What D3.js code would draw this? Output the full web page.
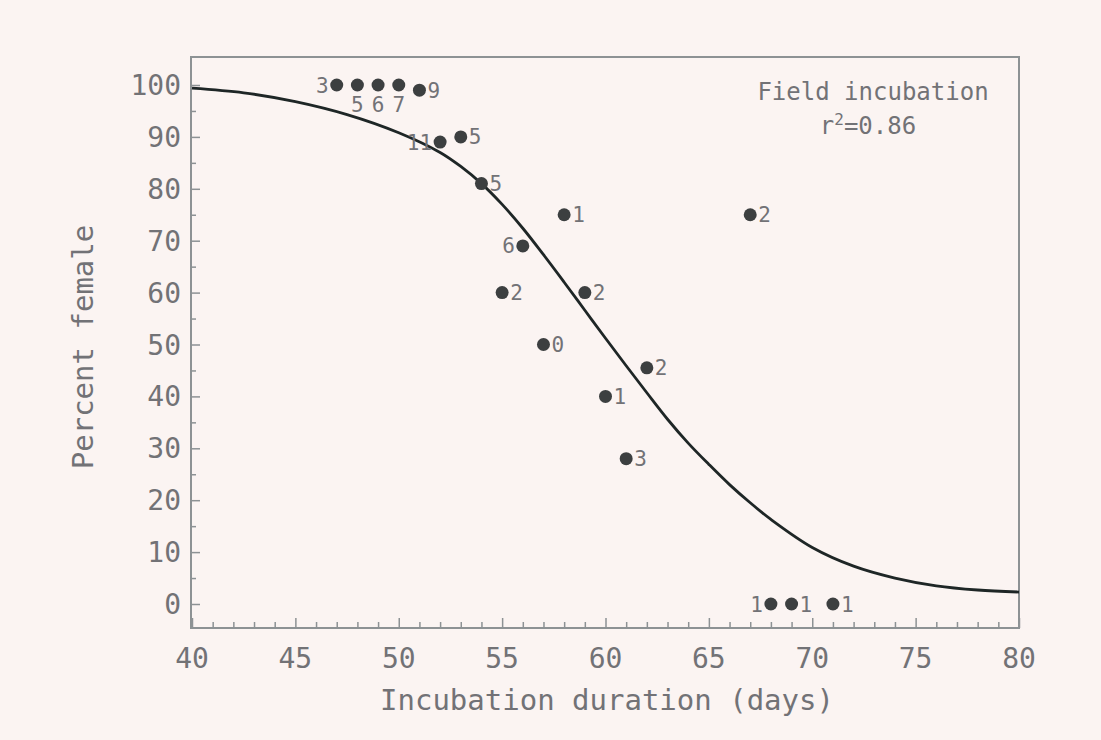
<!DOCTYPE html>
<html>
<head>
<meta charset="utf-8">
<script src="https://cdn.jsdelivr.net/npm/d3@7"></script>
<style>
  html, body { margin: 0; padding: 0; background: #fbf4f2; }
  svg { display: block; }
</style>
</head>
<body>
<svg id="chart" width="1101" height="740"></svg>
<script>
// ---- data ----
const pointDays    = [47, 48, 49, 50, 51, 52, 53, 54, 55, 56, 57, 58, 59, 60, 61, 62, 67, 68, 69, 71];
const pointFemale  = [100, 100, 100, 100, 99, 89, 90, 81, 60, 69, 50, 75, 60, 40, 28, 45.5, 75, 0, 0, 0];
const pointLabels  = ["3", "5", "6", "7", "9", "11", "5", "5", "2", "6", "0", "1", "2", "1", "3", "2", "2", "1", "1", "1"];
const labelSides   = ["left", "below", "below", "below", "right", "left", "right", "right", "right", "left", "right", "right", "right", "right", "right", "right", "right", "left", "right", "right"];

const curveDays    = [40, 42.5, 45, 47.5, 50, 52, 53, 54, 55, 56, 57, 58, 59, 60, 61, 62, 63, 64, 65, 66, 67, 68, 70, 72, 74, 76, 78, 80];
const curveFemale  = [99.4, 98.5, 96.8, 94.3, 90.8, 87.0, 84.3, 81.0, 77.0, 72.4, 67.3, 62.0, 56.6, 51.2, 45.9, 40.7, 35.6, 31.0, 26.9, 23.0, 19.5, 16.3, 10.9, 7.3, 5.0, 3.5, 2.7, 2.3];

const xTickValues  = [40, 45, 50, 55, 60, 65, 70, 75, 80];
const yTickValues  = [0, 10, 20, 30, 40, 50, 60, 70, 80, 90, 100];
const legendLines  = ["Field incubation", "0.86"];

const xTitle = "Incubation duration (days)";
const yTitle = "Percent female";

// ---- layout ----
const svg = d3.select("#chart");
const frame = { left: 191, right: 1019, top: 57, bottom: 628 };
const x = d3.scaleLinear().domain([40, 80]).range([192, 1019]);
const y = d3.scaleLinear().domain([0, 100]).range([604, 85]);

const FONT = "'DejaVu Sans Mono', 'Liberation Mono', monospace";
const textCol = "#727276";
const axisCol = "#8d9294";

svg.append("rect").attr("width", 1101).attr("height", 740).attr("fill", "#fbf4f2");

// frame
svg.append("rect")
  .attr("x", frame.left).attr("y", frame.top)
  .attr("width", frame.right - frame.left).attr("height", frame.bottom - frame.top)
  .attr("fill", "none").attr("stroke", axisCol).attr("stroke-width", 2);

// bottom axis: minor ticks every day, major every 5 days (inward)
const xMinor = d3.range(40, 81, 1);
const bottomAxis = d3.axisBottom(x).tickValues(xMinor)
  .tickSizeInner(0).tickSizeOuter(0).tickFormat("");
const gBottom = svg.append("g").attr("transform", `translate(0,${frame.bottom})`).call(bottomAxis);
gBottom.select(".domain").remove();
gBottom.selectAll(".tick line")
  .attr("y2", d => (d % 5 === 0 ? -10 : -6))
  .attr("stroke", axisCol).attr("stroke-width", 1.5);

// x tick labels
svg.append("g").selectAll("text").data(xTickValues).join("text")
  .attr("x", d => x(d)).attr("y", 668)
  .attr("text-anchor", "middle")
  .attr("font-family", FONT).attr("font-size", 28)
  .attr("fill", textCol)
  .text(d => d);

// left axis: minor every 5, major every 10 (inward)
const yMinor = d3.range(0, 101, 5);
const leftAxis = d3.axisLeft(y).tickValues(yMinor)
  .tickSizeInner(0).tickSizeOuter(0).tickFormat("");
const gLeft = svg.append("g").attr("transform", `translate(${frame.left},0)`).call(leftAxis);
gLeft.select(".domain").remove();
gLeft.selectAll(".tick line")
  .attr("x2", d => (d % 10 === 0 ? 9 : 5))
  .attr("stroke", axisCol).attr("stroke-width", 1.5);

// y tick labels
svg.append("g").selectAll("text").data(yTickValues).join("text")
  .attr("x", 181).attr("y", d => y(d))
  .attr("dy", "0.36em")
  .attr("text-anchor", "end")
  .attr("font-family", FONT).attr("font-size", 28)
  .attr("fill", textCol)
  .text(d => d);

// axis titles
svg.append("text")
  .attr("x", 607).attr("y", 710)
  .attr("text-anchor", "middle")
  .attr("font-family", FONT).attr("font-size", 29)
  .attr("fill", textCol)
  .text(xTitle);

svg.append("text")
  .attr("transform", "translate(93,347) rotate(-90)")
  .attr("text-anchor", "middle")
  .attr("font-family", FONT).attr("font-size", 29)
  .attr("fill", textCol)
  .text(yTitle);

// fitted curve
const curveData = curveDays.map((d, i) => [d, curveFemale[i]]);
svg.append("path")
  .datum(curveData)
  .attr("fill", "none")
  .attr("stroke", "#1e2626")
  .attr("stroke-width", 2.8)
  .attr("d", d3.line().x(d => x(d[0])).y(d => y(d[1])).curve(d3.curveCatmullRom.alpha(0.5)));

// points
const pts = pointDays.map((d, i) => ({ d, v: pointFemale[i], label: pointLabels[i], side: labelSides[i] }));
svg.append("g").selectAll("circle").data(pts).join("circle")
  .attr("cx", p => x(p.d)).attr("cy", p => y(p.v))
  .attr("r", 6.5)
  .attr("fill", "#3c3f40");

svg.append("g").selectAll("text").data(pts).join("text")
  .attr("x", p => x(p.d) + (p.side === "right" ? 8 : p.side === "left" ? -8 : 0))
  .attr("y", p => y(p.v) + (p.side === "below" ? 19 : 0))
  .attr("dy", "0.36em")
  .attr("text-anchor", p => (p.side === "right" ? "start" : p.side === "left" ? "end" : "middle"))
  .attr("font-family", FONT).attr("font-size", 21)
  .attr("fill", textCol)
  .text(p => p.label);

// legend text
const lg = svg.append("g").attr("font-family", FONT).attr("fill", textCol).attr("text-anchor", "middle");
lg.append("text").attr("x", 873).attr("y", 100).attr("font-size", 24).text(legendLines[0]);
const r2 = lg.append("text").attr("x", 868).attr("y", 134).attr("font-size", 24);
r2.append("tspan").text("r");
r2.append("tspan").attr("dy", -9).attr("font-size", 16).text("2");
r2.append("tspan").attr("dy", 9).text("=" + legendLines[1]);
</script>
</body>
</html>
